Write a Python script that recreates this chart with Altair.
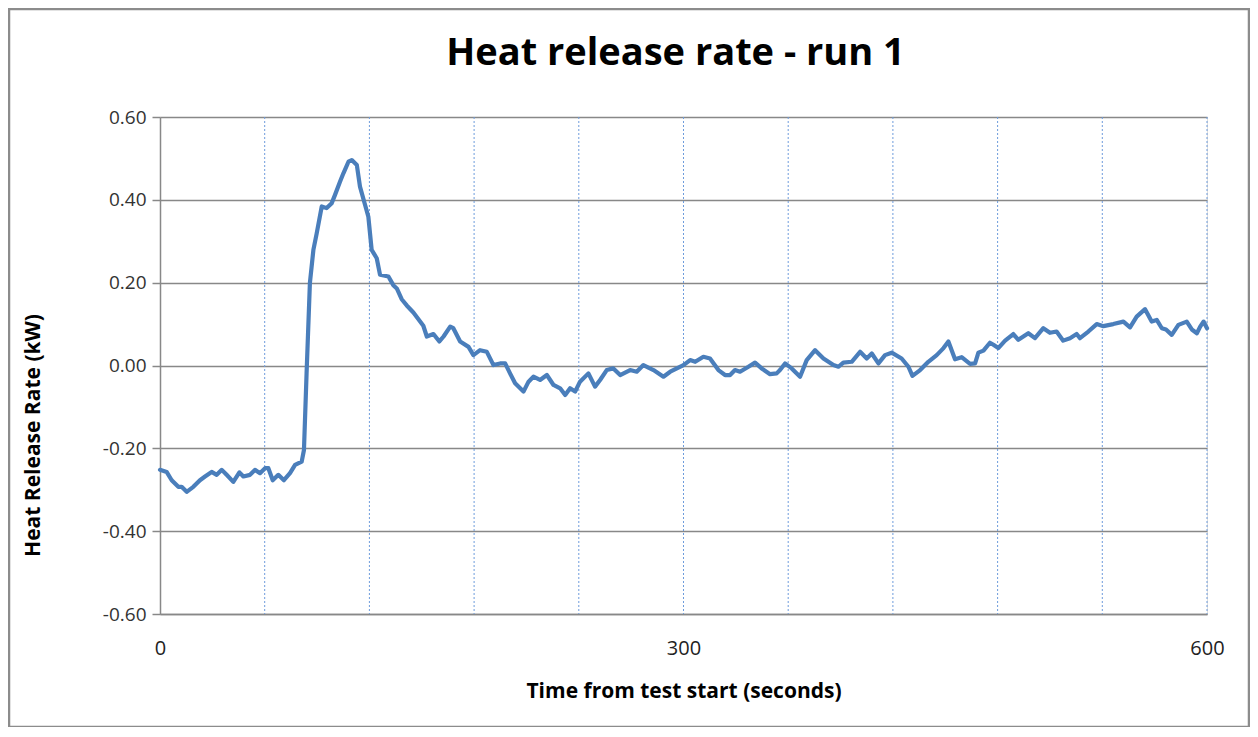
import altair as alt
import pandas as pd

# Time (s) and heat release rate (kW)
time_s = [0, 3.8, 6.7, 10.5, 12.4, 15.3, 19.1, 22.9, 25.8, 29.6, 32.5, 35.4, 38.2, 42, 45.5, 47.8,
          51.6, 54.4, 57.3, 60.2, 62.1, 64.6, 67.8, 71, 74.5, 77.4, 81.2, 82.5, 84, 85.9, 87.9,
          89.8, 92.7, 95.5, 98.4, 100.3, 103.2, 105.1, 108, 109.9, 112.8, 114.6, 117.5, 119.4,
          121.3, 124.2, 126.1, 130.9, 133.7, 135.7, 138.5,
          141.4, 145.2, 150.9, 152.9, 156.7, 160.1, 162.5, 166.3, 168.1, 172, 176.8, 179.6, 183.4,
          187.3, 191.1, 194.9, 197.8, 200.6, 203.5, 208.3, 211.2, 214, 217.8, 221.7, 225.5, 229.3,
          232.2, 235, 237.9, 240.7, 245.5, 249.3, 252.2, 256, 259.8, 263.7, 269.4, 273.2, 277,
          282.8, 288.5, 292.4, 296.2, 300, 303.8, 306.7,
          311.4, 315.2, 320, 323.8, 326.7, 329.5, 332.4, 337.2, 341, 344.8, 349.6, 353.4, 355.3,
          358.2, 362, 366.8, 370.6, 375.4, 380.2, 385.9, 388.8, 391.6, 396.4, 401.2, 405, 407.9,
          411.7, 415.5, 419.3, 425, 428.9, 431.2, 435.6, 440.3, 445.1, 449, 451.8, 455.6, 459.4,
          464.2, 467.1, 469,
          471.9, 475.6, 477.6, 480.4, 484.3, 489, 491.9, 497.6, 501.4, 506.2, 510, 513.8, 517.6,
          521.5, 525.3, 527.2, 532, 536.8, 540.6, 546.3, 552.1, 555.9, 559.7, 564.5, 568.3, 571.2,
          574.1, 576.5, 579.8, 583.6, 588.4, 591.3, 594.2, 596.1, 598, 600]

hrr_kw = [-0.252, -0.257, -0.277, -0.293, -0.293, -0.305, -0.293, -0.277, -0.268, -0.257, -0.264,
          -0.252, -0.264, -0.281, -0.258, -0.268, -0.264, -0.252, -0.260, -0.248, -0.248, -0.277,
          -0.264, -0.277, -0.260, -0.240, -0.232, -0.204, -0.019, 0.199, 0.279, 0.319, 0.384,
          0.380, 0.392, 0.412, 0.444, 0.464, 0.492, 0.496, 0.484, 0.432, 0.388, 0.359, 0.279,
          0.259, 0.219, 0.215, 0.194, 0.186, 0.160,
          0.145, 0.128, 0.096, 0.070, 0.076, 0.058, 0.070, 0.094, 0.090, 0.058, 0.045, 0.025, 0.037,
          0.033, 0.001, 0.005, 0.005, -0.019, -0.043, -0.063, -0.039, -0.027, -0.035, -0.023, -0.047,
          -0.055, -0.071, -0.055, -0.063, -0.039, -0.019, -0.051, -0.035, -0.011, -0.007, -0.023,
          -0.011, -0.015, 0.001, -0.011, -0.027, -0.015, -0.007, 0.001, 0.013, 0.009,
          0.021, 0.017, -0.011, -0.023, -0.023, -0.011, -0.015, -0.003, 0.007, -0.007, -0.021,
          -0.019, -0.011, 0.005, -0.007, -0.027, 0.013, 0.037, 0.017, 0.001, -0.003, 0.007, 0.009,
          0.033, 0.017, 0.029, 0.005, 0.025, 0.031, 0.017, -0.003, -0.025, -0.011, 0.009, 0.025,
          0.042, 0.058, 0.015, 0.020, 0.004, 0.005, 0.031,
          0.036, 0.055, 0.050, 0.042, 0.060, 0.076, 0.062, 0.078, 0.066, 0.090, 0.079, 0.082, 0.060,
          0.066, 0.076, 0.066, 0.082, 0.100, 0.095, 0.100, 0.106, 0.092, 0.118, 0.136, 0.106, 0.110,
          0.090, 0.087, 0.074, 0.098, 0.106, 0.087, 0.078, 0.094, 0.106, 0.090]

x_grid = [60, 120, 180, 240, 300, 360, 420, 480, 540, 600]
x_labels = [0, 300, 600]
y_ticks = [-0.6, -0.4, -0.2, 0.0, 0.2, 0.4, 0.6]

TITLE = "Heat release rate - run 1"
X_TITLE = "Time from test start  (seconds)"
Y_TITLE = "Heat Release Rate (kW)"

W, H = 1047, 497

df = pd.DataFrame({"t": time_s, "hrr": hrr_kw})
grid_df = pd.DataFrame({"g": x_grid})

x_scale = alt.Scale(domain=[0, 600], nice=False, zero=False)
y_scale = alt.Scale(domain=[-0.6, 0.6], nice=False)

x_axis = alt.Axis(values=x_labels, title=X_TITLE, grid=False, ticks=False,
                  domainColor="#888888", domainWidth=1.5, labelFlush=False,
                  labelFont="Open Sans", labelFontSize=20,
                  labelColor="#222222", labelPadding=24,
                  titleFont="Open Sans", titleFontSize=21, titleFontWeight="bold",
                  titleColor="#000000", titleX=W / 2, titleY=77,
                  titleBaseline="middle", titleAlign="center")

y_axis = alt.Axis(values=y_ticks, format=".2f", title=Y_TITLE,
                  labelExpr="replace(datum.label, '\u2212', '-')",
                  grid=True, gridColor="#888888", gridWidth=1.5,
                  domainColor="#888888", domainWidth=1.5,
                  tickColor="#888888", tickWidth=1.5, tickSize=8,
                  labelFont="Open Sans", labelFontSize=19, labelColor="#333333",
                  labelPadding=6,
                  titleFont="Open Sans", titleFontSize=21, titleFontWeight="bold",
                  titleColor="#000000", titleAngle=270, titleX=-127, titleY=318,
                  titleBaseline="middle", titleAlign="center")

grid = alt.Chart(grid_df).mark_rule(
    color="#6E9CDC", strokeWidth=1, strokeDash=[2, 2]
).encode(x=alt.X("g:Q", scale=x_scale, axis=x_axis))

line = alt.Chart(df).mark_line(
    color="#4A7EBB", strokeWidth=4.2, strokeJoin="round", strokeCap="round"
).encode(
    x=alt.X("t:Q", scale=x_scale, axis=x_axis),
    y=alt.Y("hrr:Q", scale=y_scale, axis=y_axis),
)

title = alt.Chart(pd.DataFrame({"txt": [TITLE]})).mark_text(
    font="Open Sans", fontSize=38, fontWeight="bold", color="#000000",
    align="center", baseline="middle"
).encode(text="txt:N", x=alt.value(W / 2 - 8), y=alt.value(-63))

frame = alt.Chart(pd.DataFrame({"k": [0]})).mark_rect(
    filled=False, stroke="#8C8C8C", strokeWidth=2.5
).encode(x=alt.value(-151), x2=alt.value(1089), y=alt.value(-108), y2=alt.value(610))

chart = alt.layer(grid, line, title, frame).properties(
    width=W, height=H,
    autosize=alt.AutoSizeParams(type="none"),
    padding={"left": 152, "top": 109, "right": 43, "bottom": 113},
).configure_view(strokeWidth=0).configure(background="white")

chart.save("out.html", embed_options={"renderer": "svg", "actions": False})
